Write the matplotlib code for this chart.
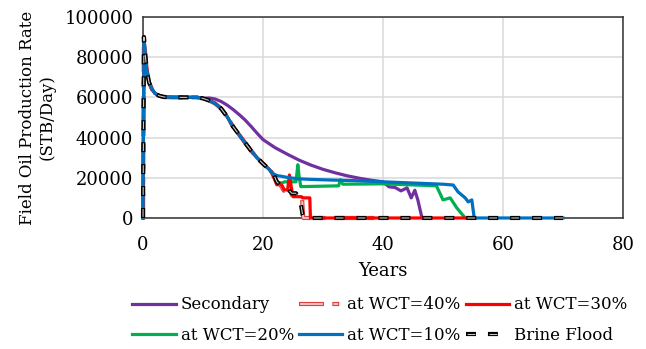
"""Field oil production rate vs. time for secondary recovery and brine-flood
switch-over cases (switch at different water-cut levels)."""

import matplotlib

matplotlib.use("Agg")
import matplotlib.pyplot as plt
from matplotlib.legend_handler import HandlerTuple
import numpy as np

plt.rcParams["font.family"] = ["DejaVu Serif"]
plt.rcParams["lines.scale_dashes"] = False

# Shared early-time response (all cases identical until ~21 years)
common_years = [0, 0.15, 0.35, 0.6, 1.0, 1.5, 2.0, 2.7, 3.5, 5, 8, 9, 10, 11,
                12, 13, 14, 15, 16, 17, 18, 19, 20, 21]
common_rate = [0, 90000, 82000, 74000, 67500, 64000, 62000, 60800, 60200,
               60000, 60000, 60000, 59500, 58500, 57000, 54500, 50500, 45500,
               41500, 37500, 33500, 30000, 27000, 24300]

secondary_years = [11, 12, 13, 14, 15, 16, 17, 18, 19, 20, 22, 24, 26, 28, 30,
                   32, 34, 36, 38, 40, 41, 42, 43, 44, 44.7, 45.3, 45.8, 46.5,
                   47]
secondary_rate = [59700, 59200, 58000, 56200, 54000, 51500, 48800, 45600,
                  42200, 39000, 35000, 31800, 28800, 26300, 24200, 22500,
                  21000, 19800, 18800, 18000, 15500, 15200, 13500, 15000,
                  10000, 13800, 9000, 0, 0]

wct40_years = [21.5, 22.3, 23.0, 23.5, 24.5, 24.8, 25.5, 26.0, 26.5, 26.7, 40]
wct40_rate = [22500, 17500, 16000, 13500, 13500, 11500, 11500, 10000, 10000,
              0, 0]

wct30_years = [21.5, 22.0, 22.3, 22.6, 23.2, 23.5, 24.1, 24.4, 24.7, 25.0,
               26.4, 26.6, 27.8, 27.9, 54]
wct30_rate = [22500, 19000, 16500, 17500, 16000, 14000, 14000, 21400, 15500,
              10600, 10600, 10000, 10000, 0, 0]

wct20_years = [21.5, 22.0, 22.6, 23.2, 23.6, 25.5, 25.8, 26.0, 26.3, 32.6,
               32.9, 33.3, 40, 48.9, 50, 51.2, 52.3, 53.7, 55]
wct20_rate = [22500, 20000, 17500, 17500, 18000, 18000, 26500, 21000, 15600,
              16000, 19000, 16800, 17000, 16000, 9000, 10000, 5000, 0, 0]

wct10_years = [21.5, 22, 22.5, 23, 24, 25, 26, 28, 30, 35, 40, 45, 50, 51.7,
               52.5, 53.7, 54.2, 54.8, 55.2, 70]
wct10_rate = [22500, 21500, 21000, 20800, 20200, 19800, 19500, 19200, 19000,
              18600, 18000, 17400, 16800, 16400, 13000, 10000, 8000, 9000, 0,
              0]

brine_years = [21.7, 22.3, 23.4, 24.0, 24.8, 25.5, 26.2, 26.6, 26.8, 70]
brine_rate = [22200, 18000, 14800, 14800, 12300, 12300, 9000, 1500, 0, 0]


def with_common(years, rate, start):
    """Prepend the shared early-time profile up to ``start`` years."""
    keep = [i for i, t in enumerate(common_years) if t < start]
    x = [common_years[i] for i in keep] + list(years)
    y = [common_rate[i] for i in keep] + list(rate)
    return np.array(x), np.array(y)


def outlined(ax, x, y, edge, fill, on_off, z, outer=3.0, inner=0.8, trim=0.8):
    """Excel-style outlined dashes: a wide dark dash with a thin light core."""
    period = sum(on_off)
    core = []
    for i in range(0, len(on_off), 2):
        core += [on_off[i] - 2 * trim, on_off[i + 1] + 2 * trim]
    a, = ax.plot(x, y, color=edge, lw=outer, ls=(0, tuple(on_off)),
                 dash_capstyle="butt", zorder=z, clip_on=False)
    b, = ax.plot(x, y, color=fill, lw=inner, ls=(period - trim, tuple(core)),
                 dash_capstyle="butt", zorder=z + 0.1, clip_on=False)
    return (a, b)


fig = plt.figure(figsize=(6.46, 3.49), dpi=100)
ax = fig.add_axes([0.2214, 0.3754, 0.7430, 0.5759])

lw = 2.3
x, y = with_common(secondary_years, secondary_rate, 11)
h_sec, = ax.plot(x, y, color="#7030A0", lw=lw, zorder=2, clip_on=False)
x, y = with_common(wct20_years, wct20_rate, 21.5)
h_20, = ax.plot(x, y, color="#00B050", lw=lw, zorder=3, clip_on=False)
x, y = with_common(wct40_years, wct40_rate, 21.5)
h_40 = outlined(ax, x, y, "#E04040", "#F6C0C0", (18, 6, 5, 6), 4,
                outer=3.0, inner=1.4)
x, y = with_common(wct30_years, wct30_rate, 21.5)
h_30, = ax.plot(x, y, color="#FF0000", lw=lw, zorder=5, clip_on=False)
x, y = with_common(wct10_years, wct10_rate, 21.5)
h_10, = ax.plot(x, y, color="#0070C0", lw=lw, zorder=6, clip_on=False)
x, y = with_common(brine_years, brine_rate, 21.7)
h_brine = outlined(ax, x, y, "black", "#C8C8C8", (7.2, 8.6), 7)

ax.set_xlim(0, 80)
ax.set_ylim(0, 100000)
ax.set_xticks([0, 20, 40, 60, 80])
ax.set_yticks(range(0, 100001, 20000))
ax.grid(color="#D9D9D9", lw=1.1)
ax.set_axisbelow(True)
ax.tick_params(length=0, labelsize=13)
ax.tick_params(axis="x", pad=13)
ax.tick_params(axis="y", pad=7)
for side in ax.spines.values():
    side.set_color("#333333")
    side.set_linewidth(1.1)

ax.set_xlabel("Years", fontsize=13, labelpad=6)
ax.set_ylabel("Field Oil Production Rate\n(STB/Day)", fontsize=12,
              labelpad=6, linespacing=1.2)

# Legend is filled column by column, so order handles to read row-wise
handles = [h_sec, h_20, h_40, h_10, h_30, h_brine]
labels = ["Secondary", "at WCT=20%", "at WCT=40%", "at WCT=10%",
          "at WCT=30%", "Brine Flood"]
fig.legend(handles, labels, ncol=3, frameon=False,
           loc="center", bbox_to_anchor=(0.588, 0.083), fontsize=12,
           handler_map={tuple: HandlerTuple(ndivide=1, pad=0)},
           handlelength=2.6, handletextpad=0.3, columnspacing=0.3,
           labelspacing=0.8)

fig.savefig("out.png", dpi=100)
